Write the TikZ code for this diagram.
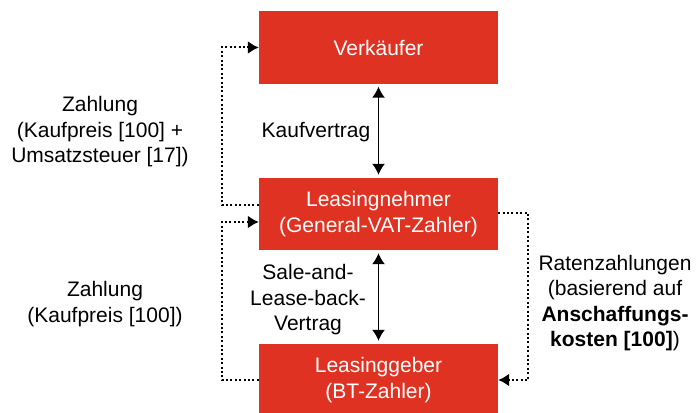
\documentclass[tikz,border=0pt]{standalone}
\usepackage{fontspec}
\setmainfont{Liberation Sans}
\usetikzlibrary{arrows.meta}
\definecolor{boxred}{RGB}{223,50,34}
\begin{document}
\begin{tikzpicture}[x=1pt,y=-1pt,
    party/.style={fill=boxred,text=white,minimum width=239pt,minimum height=72pt,
        inner sep=0pt,align=center,font=\fontsize{21}{25.5}\selectfont},
    note/.style={align=center,font=\fontsize{21}{25.5}\selectfont},
    deal/.style={{Latex[length=11pt,width=13pt]}-{Latex[length=11pt,width=13pt]},line width=1.5pt,
        shorten <=3pt,shorten >=3pt},
    pay/.style={-{Latex[length=11pt,width=13pt]},line width=2pt,dash pattern=on 2pt off 2.4pt}]
                %%% Frame of the picture
                \useasboundingbox (0,0) rectangle (698,412);
                %%% Parties
                \node[party] (verk) at (378.5,47.5) {Verkäufer};
                \node[party] (lnehmer) at (378.5,214) {Leasingnehmer\\(General-VAT-Zahler)};
                \node[party] (lgeber) at (378.5,380) {Leasinggeber\\(BT-Zahler)};
                %%% Contracts between the parties
                \draw[deal] (verk.south) -- (lnehmer.north);
                \draw[deal] (lnehmer.south) -- (lgeber.north);
                \node[note] (kv) at (316,132) {Kaufvertrag};
                \node[note] (slb) at (308,300) {Sale-and-\\Lease-back-\\Vertrag};
                %%% Payments (dotted)
                \draw[pay] ([yshift=9pt]lnehmer.west) -- ++(-37,0) |- (verk.west);
                \draw[pay] (lgeber.west) -- ++(-37,0) |- ([yshift=-8pt]lnehmer.west);
                \draw[pay] ([yshift=1pt]lnehmer.east) -- ++(30,0) |- (lgeber.east);
                \node[note] (zkv) at (100,132) {Zahlung\\(Kaufpreis [100] +\\Umsatzsteuer [17])};
                \node[note] (zslb) at (105,304) {Zahlung\\(Kaufpreis [100])};
                \node[note] (rate) at (615,303) {Ratenzahlungen\\(basierend auf\\\textbf{Anschaffungs-}\\\textbf{kosten [100]})};
                % Note: boxes first, so the arrows end on their edges.
                \end{tikzpicture}
\end{document}
